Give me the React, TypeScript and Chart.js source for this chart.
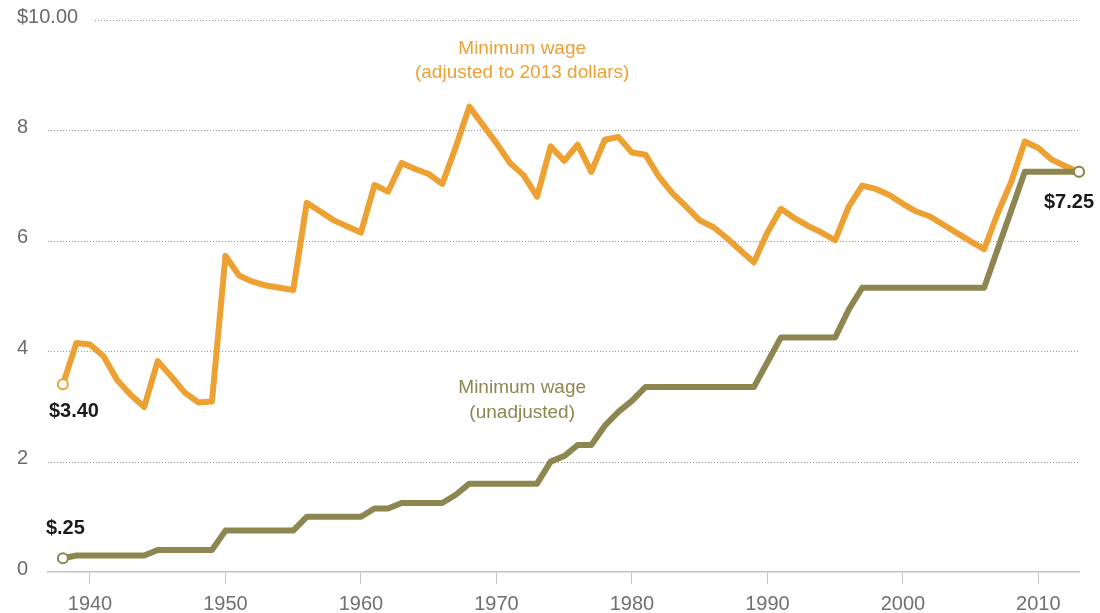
import React, { useEffect, useRef } from "react";
import { Chart, registerables } from "chart.js";

Chart.register(...registerables);

const years: number[] = [];
for (let y = 1938; y <= 2013; y++) years.push(y);

const adjusted: number[] = [
  3.40, 4.15, 4.12, 3.91, 3.48, 3.21, 2.99, 3.82, 3.54, 3.25, 3.07, 3.09,
  5.73, 5.37, 5.26, 5.19, 5.15, 5.11, 6.69, 6.53, 6.37, 6.26, 6.15, 7.01,
  6.89, 7.41, 7.30, 7.21, 7.03, 7.70, 8.43, 8.10, 7.77, 7.41, 7.19, 6.80,
  7.71, 7.45, 7.74, 7.25, 7.83, 7.88, 7.60, 7.56, 7.16, 6.86, 6.62, 6.37,
  6.25, 6.05, 5.83, 5.61, 6.15, 6.58, 6.41, 6.27, 6.15, 6.01, 6.62, 7.00,
  6.94, 6.83, 6.67, 6.53, 6.44, 6.29, 6.14, 5.99, 5.85, 6.50, 7.07, 7.80,
  7.68, 7.47, 7.35, 7.25,
];

const unadjusted: number[] = [
  0.25, 0.30, 0.30, 0.30, 0.30, 0.30, 0.30, 0.40, 0.40, 0.40, 0.40, 0.40,
  0.75, 0.75, 0.75, 0.75, 0.75, 0.75, 1.00, 1.00, 1.00, 1.00, 1.00, 1.15,
  1.15, 1.25, 1.25, 1.25, 1.25, 1.40, 1.60, 1.60, 1.60, 1.60, 1.60, 1.60,
  2.00, 2.10, 2.30, 2.30, 2.65, 2.90, 3.10, 3.35, 3.35, 3.35, 3.35, 3.35,
  3.35, 3.35, 3.35, 3.35, 3.80, 4.25, 4.25, 4.25, 4.25, 4.25, 4.75, 5.15,
  5.15, 5.15, 5.15, 5.15, 5.15, 5.15, 5.15, 5.15, 5.15, 5.85, 6.55, 7.25,
  7.25, 7.25, 7.25, 7.25,
];

const xTicks: number[] = [1940, 1950, 1960, 1970, 1980, 1990, 2000, 2010];
const yTicks: number[] = [0, 2, 4, 6, 8, 10];
const yTickLabels: string[] = ["0", "2", "4", "6", "8", "$10.00"];

const ORANGE = "#EDA132";
const OLIVE = "#8E8650";
const FONT = '"Liberation Sans", Arial, sans-serif';

const seriesLabels = {
  adjusted: ["Minimum wage", "(adjusted to 2013 dollars)"],
  unadjusted: ["Minimum wage", "(unadjusted)"],
};

export default function App() {
  const ref = useRef<HTMLCanvasElement | null>(null);

  useEffect(() => {
    document.body.style.margin = "0";
    const canvas = ref.current;
    if (!canvas) return;

    const adjPts = years.map((x, i) => ({ x, y: adjusted[i] }));
    const unaPts = years.map((x, i) => ({ x, y: unadjusted[i] }));

    const endPoint = (ctx: any) => {
      const n = ctx.dataset.data.length;
      return ctx.dataIndex === 0 || ctx.dataIndex === n - 1 ? 5 : 0;
    };

    const gridPlugin = {
      id: "dottedGrid",
      beforeDatasetsDraw(chart: any) {
        const { ctx, chartArea, scales } = chart;
        const ys = scales.y;
        ctx.save();
        ctx.strokeStyle = "#9a9a9a";
        ctx.lineWidth = 1;
        ctx.setLineDash([1, 2]);
        yTicks.forEach((v) => {
          if (v === 0) return;
          const py = Math.round(ys.getPixelForValue(v)) + 0.5;
          const startX = v === 10 ? chartArea.left + 47 : chartArea.left;
          ctx.beginPath();
          ctx.moveTo(startX, py);
          ctx.lineTo(chartArea.right, py);
          ctx.stroke();
        });
        ctx.restore();
        ctx.save();
        ctx.font = `20px ${FONT}`;
        ctx.fillStyle = "#6a6a6a";
        ctx.textAlign = "left";
        ctx.textBaseline = "middle";
        yTicks.forEach((v, i) => {
          ctx.fillText(yTickLabels[i], ys.left, ys.getPixelForValue(v) - 3);
        });
        ctx.restore();
      },
    };

    const textPlugin = {
      id: "annotations",
      afterDatasetsDraw(chart: any) {
        const { ctx, scales } = chart;
        const xs = scales.x;
        const ys = scales.y;
        ctx.save();
        ctx.textBaseline = "middle";
        ctx.font = `19px ${FONT}`;
        ctx.textAlign = "center";
        ctx.fillStyle = ORANGE;
        const cx = xs.getPixelForValue(1971.9);
        ctx.fillText(seriesLabels.adjusted[0], cx, ys.getPixelForValue(9.48));
        ctx.fillText(seriesLabels.adjusted[1], cx, ys.getPixelForValue(9.04));
        ctx.fillStyle = OLIVE;
        ctx.fillText(seriesLabels.unadjusted[0], cx, ys.getPixelForValue(3.34));
        ctx.fillText(seriesLabels.unadjusted[1], cx, ys.getPixelForValue(2.89));
        ctx.font = `bold 20px ${FONT}`;
        ctx.fillStyle = "#1a1a1a";
        ctx.textAlign = "left";
        const first = years[0];
        const last = years[years.length - 1];
        ctx.fillText(
          "$" + adjusted[0].toFixed(2),
          xs.getPixelForValue(first) - 14,
          ys.getPixelForValue(adjusted[0]) + 27
        );
        ctx.fillText(
          "$" + unadjusted[0].toFixed(2).replace(/^0/, ""),
          xs.getPixelForValue(first) - 17,
          ys.getPixelForValue(unadjusted[0]) - 30
        );
        ctx.fillText(
          "$" + unadjusted[unadjusted.length - 1].toFixed(2),
          xs.getPixelForValue(last) - 35,
          ys.getPixelForValue(unadjusted[unadjusted.length - 1]) + 31
        );
        ctx.restore();
      },
    };

    const chart = new Chart(canvas, {
      type: "line",
      data: {
        datasets: [
          {
            label: "Minimum wage (unadjusted)",
            data: unaPts,
            borderColor: OLIVE,
            backgroundColor: "#ffffff",
            borderWidth: 6,
            pointRadius: endPoint,
            pointBorderWidth: 2,
            pointBackgroundColor: "#ffffff",
            pointBorderColor: OLIVE,
            tension: 0,
            borderJoinStyle: "round",
            borderCapStyle: "round",
          },
          {
            label: "Minimum wage (adjusted to 2013 dollars)",
            data: adjPts,
            borderColor: ORANGE,
            backgroundColor: "#ffffff",
            borderWidth: 6,
            pointRadius: endPoint,
            pointBorderWidth: 2,
            pointBackgroundColor: "#ffffff",
            pointBorderColor: ORANGE,
            tension: 0,
            borderJoinStyle: "round",
            borderCapStyle: "round",
          },
        ],
      },
      options: {
        responsive: false,
        animation: false,
        clip: false as any,
        layout: { padding: { top: 20, right: 21, left: 17, bottom: 0 } },
        plugins: {
          legend: { display: false },
          tooltip: { enabled: false },
          title: { display: false },
        },
        scales: {
          x: {
            type: "linear",
            min: 1936.9,
            max: 2013,
            afterBuildTicks: (scale: any) => {
              scale.ticks = xTicks.map((v) => ({ value: v }));
            },
            afterFit: (scale: any) => {
              scale.height = 41;
            },
            border: { display: true, color: "#c4c4c4", width: 1.5 },
            grid: {
              drawOnChartArea: false,
              drawTicks: true,
              tickLength: 12,
              tickColor: "#c4c4c4",
              tickWidth: 1,
            },
            ticks: {
              padding: 8,
              color: "#707070",
              font: { family: FONT, size: 20 },
              callback: (v: any) => String(v),
              maxRotation: 0,
            },
          },
          y: {
            type: "linear",
            min: 0,
            max: 10,
            afterBuildTicks: (scale: any) => {
              scale.ticks = yTicks.map((v) => ({ value: v }));
            },
            afterFit: (scale: any) => {
              scale.width = 31;
            },
            border: { display: false },
            grid: { display: false },
            ticks: { display: false },
          },
        },
      },
      plugins: [gridPlugin, textPlugin],
    });

    return () => chart.destroy();
  }, []);

  return (
    <div style={{ width: 1100, height: 613, background: "#fff" }}>
      <canvas ref={ref} width={1100} height={613} style={{ display: "block" }} />
    </div>
  );
}
